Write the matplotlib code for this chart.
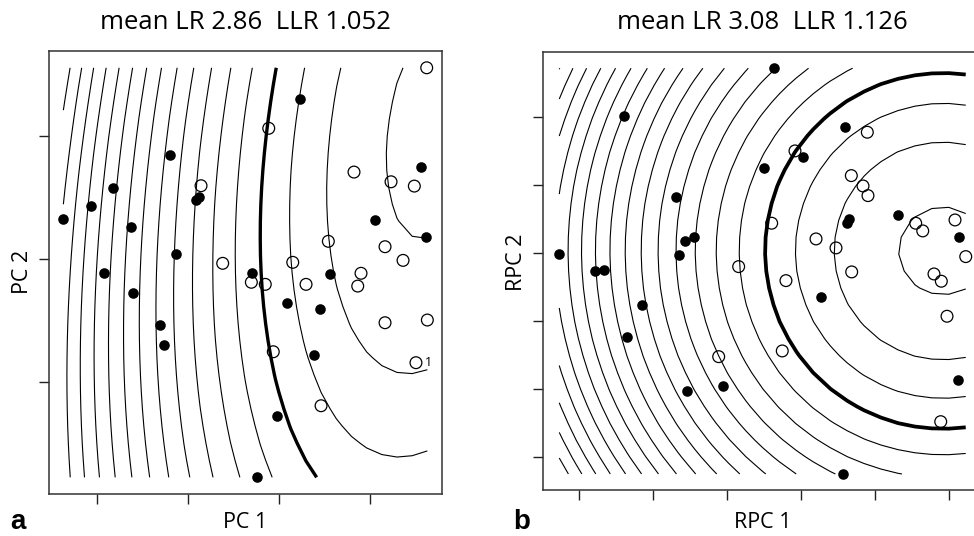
import numpy as np
import matplotlib
matplotlib.use('Agg')
import matplotlib.pyplot as plt

# ---- panel a : PC 1 / PC 2 ----
a_fill_x = [-2.370, -2.069, -1.821, -1.630, -1.926, -1.601, -1.198, -1.135, -1.311, -1.264,
            -0.912, -0.879, -0.300, 0.231, 0.085, 0.451, 0.557, 0.385, -0.025, -0.238,
            1.055, 1.557, 1.615]
a_fill_y = [0.323, 0.433, 0.577, 0.258, -0.116, -0.276, 0.846, 0.041, -0.534, -0.697,
            0.480, 0.507, -0.111, 1.301, -0.355, -0.407, -0.120, -0.778, -1.274, -1.775,
            0.317, 0.750, 0.176]
a_open_x = [-0.113, -0.857, -0.619, -0.304, -0.151, 0.151, 0.297, 0.542, -0.063, 0.462,
            0.824, 1.231, 1.487, 1.623, 1.165, 1.363, 0.901, 0.865, 1.165, 1.630, 1.505]
a_open_y = [1.063, 0.596, -0.035, -0.189, -0.206, -0.027, -0.206, 0.144, -0.754, -1.193,
            0.707, 0.628, 0.593, 1.555, 0.100, -0.011, -0.116, -0.220, -0.518, -0.496, -0.843]

# ---- panel b : RPC 1 / RPC 2 ----
b_fill_x = [-0.361, -2.392, 0.595, 0.023, -0.504, -1.685, 1.315, 0.653, 0.618, -1.446,
            -1.568, -1.649, -3.266, -2.784, -2.658, -2.145, -2.347, 0.270, 2.135, -1.545,
            -1.058, 2.122, 0.568]
b_fill_y = [2.716, 2.015, 1.849, 1.407, 1.254, 0.819, 0.563, 0.500, 0.437, 0.231,
            0.172, -0.034, -0.019, -0.265, -0.250, -0.760, -1.240, -0.647, 0.240, -2.034,
            -1.956, -1.868, -3.250]
b_open_x = [0.896, -0.081, 0.680, 0.838, 0.905, -0.396, 0.203, 0.473, 1.550, 1.645,
            2.081, 2.226, 0.685, -0.203, -0.842, 1.797, 1.896, 1.973, -0.253, -1.112, 1.888]
b_open_y = [1.775, 1.500, 1.137, 0.985, 0.843, 0.437, 0.206, 0.074, 0.437, 0.324,
            0.485, -0.054, -0.279, -0.407, -0.201, -0.309, -0.416, -0.931, -1.441, -1.525, -2.481]

titles = ['mean LR 2.86  LLR 1.052', 'mean LR 3.08  LLR 1.126']
xlabels = ['PC 1', 'RPC 1']
ylabels = ['PC 2', 'RPC 2']


# fitted quadratic log-LR surfaces (LR = 1 -> level 0, drawn thick)
def llr_a(x, y):
    x0 = 1.549 + 0.142 * y
    return 3.25 - (0.945 + 0.021 * y) * (x - x0) ** 2 - 0.318 * (y - 1.049) ** 2


def llr_b(x, y):
    return 3.2 - 0.553 * (x - 1.919) ** 2 - 0.467 * (y - 0.03) ** 2


W, H = 974, 536
fig = plt.figure(figsize=(W / 100, H / 100), dpi=100)
font = 'Open Sans'


def panel(box, fx, fy, ox, oy, field, xticks, yticks, title, xlab, ylab, letter, ylab_pos, thick):
    x0, y0, x1, y1 = box
    ax = fig.add_axes([x0 / W, 1 - y1 / H, (x1 - x0) / W, (y1 - y0) / H])
    allx = np.array(fx + ox)
    ally = np.array(fy + oy)
    gx = np.linspace(allx.min(), allx.max(), 25)
    gy = np.linspace(ally.min(), ally.max(), 25)
    GX, GY = np.meshgrid(gx, gy)
    Z = field(GX, GY)
    levels = np.arange(-18, 4)
    lws = [thick if lv == 0 else 0.8 for lv in levels]
    ax.contour(GX, GY, Z, levels=levels, colors='k', linewidths=lws, linestyles='solid')
    ax.scatter(fx, fy, s=58, c='k', linewidths=0, zorder=3)
    ax.scatter(ox, oy, s=72, facecolors='none', edgecolors='k', linewidths=0.9, zorder=3)
    # R style 4% padding
    px = (allx.max() - allx.min()) * 0.04
    py = (ally.max() - ally.min()) * 0.04
    ax.set_xlim(allx.min() - px, allx.max() + px)
    ax.set_ylim(ally.min() - py, ally.max() + py)
    ax.set_xticks(xticks)
    ax.set_yticks(yticks)
    ax.tick_params(direction='out', length=7, width=1, color='#222222',
                   labelbottom=False, labelleft=False)
    for sp in ax.spines.values():
        sp.set_color('#333333')
        sp.set_linewidth(1.1)
    cx = (x0 + x1) / 2
    fig.text(cx / W, 1 - 29 / H, title, ha='center', va='baseline', fontsize=18.5, family=font)
    fig.text(cx / W, 1 - 528 / H, xlab, ha='center', va='baseline', fontsize=15.5, family=font)
    fig.text(ylab_pos[0] / W, 1 - ylab_pos[1] / H, ylab, ha='center', va='center',
             rotation=90, fontsize=15.5, family=font)
    fig.text(letter[1] / W, 1 - 535 / H, letter[0], ha='left', va='bottom',
             fontsize=20, fontweight='bold', family='Liberation Sans')
    return ax


ax1 = panel((48.8, 51.4, 441.9, 493.7), a_fill_x, a_fill_y, a_open_x, a_open_y, llr_a,
            [-2, -1, 0, 1], [-1, 0, 1], titles[0], xlabels[0], ylabels[0], ('a', 10), (23, 272), 2.4)
ax1.text(1.6, -0.84, '1', fontsize=9, ha='left', va='center', family=font)
ax2 = panel((543, 52, 982, 490.2), b_fill_x, b_fill_y, b_open_x, b_open_y, llr_b,
            [-3, -2, -1, 0, 1, 2], [-3, -2, -1, 0, 1, 2], titles[1], xlabels[1], ylabels[1],
            ('b', 513), (516, 262), 2.7)

plt.savefig('out.png', dpi=100)
